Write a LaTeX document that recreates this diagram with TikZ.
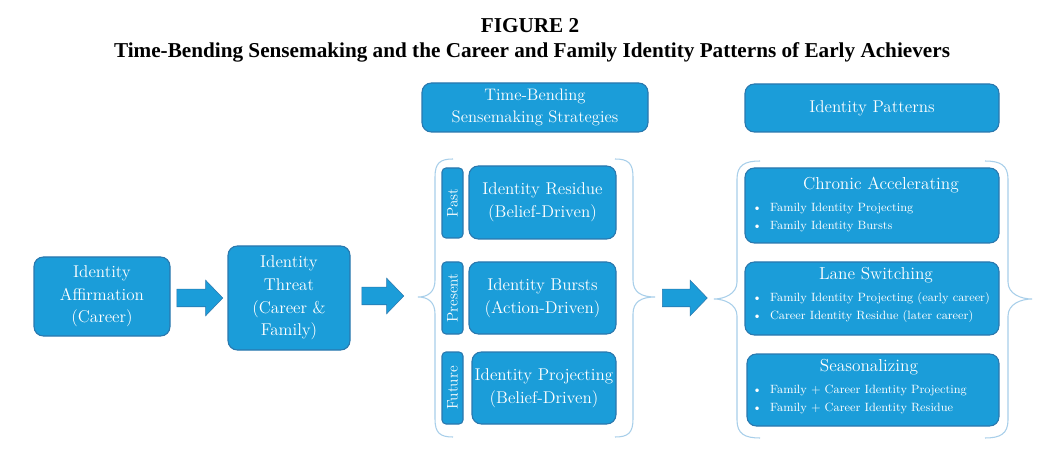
\documentclass[tikz,border=0pt]{standalone}
\usepackage{fontspec}
\newfontfamily\titlefont{Liberation Serif}
\usetikzlibrary{shapes.arrows,calc}
\definecolor{boxblue}{HTML}{1B9DD9}
\definecolor{boxedge}{HTML}{2A78AE}
\definecolor{bracecol}{HTML}{A8CFEA}
\begin{document}
\begin{tikzpicture}[x=0.75pt,y=-0.75pt,
  box/.style={draw=boxedge, line width=0.8pt, fill=boxblue, rounded corners=7pt, text=white, align=center, font=\fontsize{12.8}{17}\selectfont, inner sep=0pt},
  tagbox/.style={box, rounded corners=3pt, font=\fontsize{11.5}{13}\selectfont},
  blockarrow/.style={single arrow, fill=boxblue, draw=boxedge, line width=0.4pt, inner xsep=0pt, inner ysep=6.375pt, single arrow head extend=6.75pt, single arrow tip angle=92, anchor=tail},
  brace/.style={draw=bracecol, line width=0.8pt},
  pattitle/.style={text=white, font=\fontsize{13}{15}\selectfont, inner sep=0pt},
  bullets/.style={text=white, align=left, anchor=west, font=\fontsize{9}{13.5}\selectfont, inner sep=0pt}]
\useasboundingbox[fill=white] (0,0) rectangle (1060,452);
% title
\node[font=\titlefont\bfseries\fontsize{15.9}{18}\selectfont] (fig) at (530,26) {FIGURE 2};
\node[font=\titlefont\bfseries\fontsize{15.9}{18}\selectfont] (title) at (532,52) {Time-Bending Sensemaking and the Career and Family Identity Patterns of Early Achievers};
% column 1, 2
\node[box, minimum width=102pt, minimum height=59.25pt] (aff) at (102,296.5) {Identity\\Affirmation\\(Career)};
\node[box, minimum width=91.5pt, minimum height=78pt] (thr) at (289,298) {Identity\\Threat\\(Career \&\\Family)};
% column 3
\node[box, minimum width=169.5pt, minimum height=36.75pt, font=\fontsize{12.5}{16.5}\selectfont] (h3) at (535,107.5) {Time-Bending\\Sensemaking Strategies};
\node[tagbox, minimum width=15.75pt, minimum height=52.5pt] (past) at (452.5,203) {};
\node[text=white, rotate=90, font=\fontsize{11.5}{13}\selectfont] (pastt) at (past.center) {Past};
\node[tagbox, minimum width=15.75pt, minimum height=54pt] (pres) at (452.5,298) {};
\node[text=white, rotate=90, font=\fontsize{11.5}{13}\selectfont] (prest) at (pres.center) {Present};
\node[tagbox, minimum width=15.75pt, minimum height=54pt] (fut) at (452.5,388) {};
\node[text=white, rotate=90, font=\fontsize{11.5}{13}\selectfont] (futt) at (fut.center) {Future};
\node[box, minimum width=110.25pt, minimum height=54.75pt] (res) at (542.5,202.5) {Identity Residue\\(Belief-Driven)};
\node[box, minimum width=110.25pt, minimum height=54pt] (bur) at (542.5,298) {Identity Bursts\\(Action-Driven)};
\node[box, minimum width=108pt, minimum height=54pt] (proj) at (544,388) {Identity Projecting\\(Belief-Driven)};
% braces column 3
\coordinate (b3l) at (418,297);
\coordinate (b3r) at (655,297);
\draw[brace] (453,159) .. controls (440,159) and (435,163) .. (435,177) -- (435,280) .. controls (435,292) and (428,297) .. (b3l) .. controls (428,297) and (435,302) .. (435,314) -- (435,419) .. controls (435,433) and (440,437) .. (453,437);
\draw[brace] (615,159) .. controls (628,159) and (633,163) .. (633,177) -- (633,280) .. controls (633,292) and (641,297) .. (b3r) .. controls (641,297) and (633,302) .. (633,314) -- (633,419) .. controls (633,433) and (628,437) .. (615,437);
% column 4
\node[box, minimum width=190.5pt, minimum height=36pt] (h4) at (872,108) {Identity Patterns};
\node[box, minimum width=190.5pt, minimum height=56.25pt] (chr) at (872,205.5) {};
\node[pattitle] (chrt) at (881,185) {Chronic Accelerating};
\node[bullets] (chrb) at (752,218) {\textbullet\ \ Family Identity Projecting\\\textbullet\ \ Family Identity Bursts};
\node[box, minimum width=190.5pt, minimum height=54.75pt] (lane) at (872,298.5) {};
\node[pattitle] (lanet) at (876,275) {Lane Switching};
\node[bullets] (laneb) at (752,307.5) {\textbullet\ \ Family Identity Projecting (early career)\\\textbullet\ \ Career Identity Residue (later career)};
\node[box, minimum width=189pt, minimum height=54pt] (sea) at (873,390) {};
\node[pattitle] (seat) at (869,367) {Seasonalizing};
\node[bullets] (seab) at (752,399.5) {\textbullet\ \ Family + Career Identity Projecting\\\textbullet\ \ Family + Career Identity Residue};
% braces column 4
\coordinate (b4l) at (714,299);
\coordinate (b4r) at (1032,299);
\draw[brace] (760,161) .. controls (745,161) and (737,165) .. (737,179) -- (737,282) .. controls (737,294) and (724,299) .. (b4l) .. controls (724,299) and (737,304) .. (737,316) -- (737,420) .. controls (737,434) and (745,438) .. (760,438);
\draw[brace] (985,161) .. controls (1000,161) and (1008,165) .. (1008,179) -- (1008,282) .. controls (1008,294) and (1021,299) .. (b4r) .. controls (1021,299) and (1008,304) .. (1008,316) -- (1008,420) .. controls (1008,434) and (1000,438) .. (985,438);
% arrows
\node[blockarrow, minimum height=34.5pt] (ar1) at ($(aff.east)+(6,1.5)$) {};
\node[blockarrow, minimum height=31.5pt] (ar2) at ($(thr.east)+(11,-2)$) {};
\node[blockarrow, minimum height=33.75pt] (ar3) at ($(b3r)+(7,1)$) {};
\end{tikzpicture}
\end{document}
